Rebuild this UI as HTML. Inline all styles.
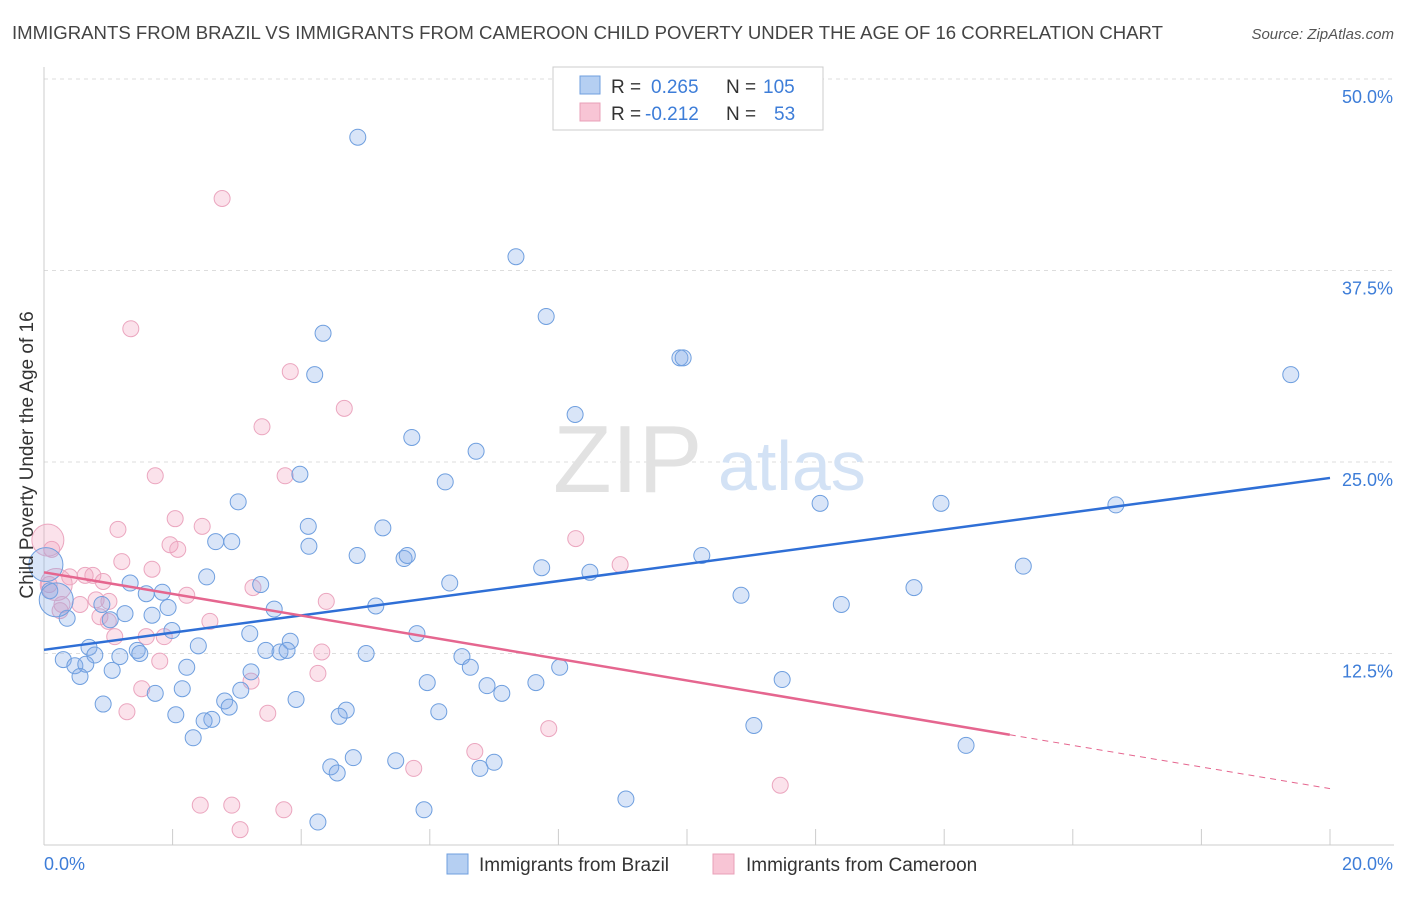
<!DOCTYPE html>
<html><head><meta charset="utf-8"><style>
body{margin:0;background:#fff;font-family:"Liberation Sans",sans-serif;}
svg text{font-family:"Liberation Sans",sans-serif;}
</style></head><body>
<svg id="chart" width="1406" height="892" xmlns="http://www.w3.org/2000/svg">
<text x="12" y="39" font-size="18" fill="#444" textLength="1151" lengthAdjust="spacingAndGlyphs">IMMIGRANTS FROM BRAZIL VS IMMIGRANTS FROM CAMEROON CHILD POVERTY UNDER THE AGE OF 16 CORRELATION CHART</text>
<text x="1394" y="39" font-size="15" fill="#555" text-anchor="end" font-style="italic">Source: ZipAtlas.com</text>
<g id="grid"></g>
<text x="553" y="492" font-size="96" font-family="Liberation Serif" fill="#e2e2e2">ZIP</text>
<text x="718" y="490" font-size="70" fill="#d3e2f5">atlas</text>
<g id="marks"></g>
<g id="lines"></g>
<text transform="translate(33,455) rotate(-90)" font-size="19" fill="#333" text-anchor="middle">Child Poverty Under the Age of 16</text>
<text x="44" y="870" font-size="18" fill="#3d7dd8">0.0%</text>
<text x="1393" y="870" font-size="18" fill="#3d7dd8" text-anchor="end">20.0%</text>
<g>
<rect x="553" y="67" width="270" height="63" fill="#fff" stroke="#ccc"/>
<rect x="580" y="76" width="20" height="18" fill="#b5cff2" stroke="#6f9fdf"/>
<rect x="580" y="103" width="20" height="18" fill="#f8c5d5" stroke="#e9a0b8"/>
<text x="611" y="93" font-size="19" fill="#333">R =</text>
<text x="651" y="93" font-size="19" fill="#3d7dd8">0.265</text>
<text x="726" y="93" font-size="19" fill="#333">N =</text>
<text x="763" y="93" font-size="19" fill="#3d7dd8">105</text>
<text x="611" y="120" font-size="19" fill="#333">R =</text>
<text x="645" y="120" font-size="19" fill="#3d7dd8">-0.212</text>
<text x="726" y="120" font-size="19" fill="#333">N =</text>
<text x="774" y="120" font-size="19" fill="#3d7dd8">53</text>
</g>
<g>
<rect x="447" y="854" width="21" height="20" fill="#b5cff2" stroke="#6f9fdf"/>
<text x="479" y="871" font-size="19" fill="#333">Immigrants from Brazil</text></g>
<g>
<rect x="713" y="854" width="21" height="20" fill="#f8c5d5" stroke="#e9a0b8"/>
<text x="746" y="871" font-size="19" fill="#333">Immigrants from Cameroon</text></g>
</svg>
<script>
const yTicks=[12.5,25.0,37.5,50.0];
const xTicks=[0,2,4,6,8,10,12,14,16,18,20];
const brazilX=[4.88,7.34,7.81,4.34,9.89,9.94,19.39,4.21,8.26,5.72,6.72,3.98,6.24,3.02,12.07,13.95,16.67,4.11,5.27,2.67,2.92,4.12,4.87,5.60,5.65,10.23,7.74,15.23,8.49,2.53,3.37,6.31,1.34,1.59,1.84,10.84,13.53,5.16,3.58,0.90,1.93,1.26,1.68,12.40,0.36,1.03,1.99,3.20,5.80,3.83,2.40,0.70,1.45,1.49,3.45,3.67,3.78,5.01,0.79,1.18,6.50,0.30,0.48,0.65,1.06,2.22,3.22,6.63,8.02,0.56,5.96,7.65,6.89,11.48,2.15,7.12,1.73,3.06,2.81,3.92,0.92,2.88,4.70,4.59,2.05,2.61,2.49,6.14,11.04,2.32,14.34,4.81,5.47,4.46,4.56,6.78,7.00,9.05,5.91,4.26,0.09,0.03,0.19,8.62];
const brazilY=[46.2,38.4,34.5,33.4,31.8,31.8,30.7,30.7,28.1,26.6,25.7,24.2,23.7,22.4,22.3,22.3,22.2,20.8,20.7,19.8,19.8,19.5,18.9,18.7,18.9,18.9,18.1,18.2,17.8,17.5,17.0,17.1,17.1,16.4,16.5,16.3,16.8,15.6,15.4,15.7,15.5,15.1,15.0,15.7,14.8,14.7,14.0,13.8,13.8,13.3,13.0,12.9,12.7,12.5,12.7,12.6,12.7,12.5,12.4,12.3,12.3,12.1,11.7,11.8,11.4,11.6,11.3,11.6,11.6,11.0,10.6,10.6,10.4,10.8,10.2,9.9,9.9,10.1,9.4,9.5,9.2,9.0,8.8,8.4,8.5,8.2,8.1,8.7,7.8,7.0,6.5,5.7,5.5,5.1,4.7,5.0,5.4,3.0,2.3,1.5,16.6,18.3,16.0,48.8];
const brazilSize=brazilX.map((v,i)=>(i===101||i===102)?2:1);
const camX=[2.77,1.35,3.83,4.67,3.39,1.73,3.75,2.04,2.46,1.15,8.27,1.96,2.08,0.12,1.21,1.68,0.76,0.64,0.40,8.96,0.92,3.25,2.22,4.39,0.56,0.81,1.01,0.28,0.08,2.58,1.00,0.87,1.59,1.87,1.10,4.32,1.80,4.26,1.52,3.22,1.29,3.48,7.85,6.70,5.75,11.45,2.43,2.92,3.73,3.05,0.06,0.19,0.25];
const camY=[42.2,33.7,30.9,28.5,27.3,24.1,24.1,21.3,20.8,20.6,20.0,19.6,19.3,19.3,18.5,18.0,17.6,17.6,17.5,18.3,17.2,16.8,16.3,15.9,15.7,16.0,15.9,15.7,17.0,14.6,14.6,14.9,13.6,13.6,13.6,12.6,12.0,11.2,10.2,10.7,8.7,8.6,7.6,6.1,5.0,3.9,2.6,2.6,2.3,1.0,19.9,17.0,15.3];
const camSize=camX.map((v,i)=>(i===50||i===51)?2:1);
const brazilTrend=[12.74,0.561];
const camTrend=[17.8,-0.706];
const camSolidEnd=15.02;

const X=v=>44+v/20*1286;
const Y=v=>845-v/12.5*191.5;
const NS="http://www.w3.org/2000/svg";
function mk(t,a,p){const e=document.createElementNS(NS,t);for(const k in a)e.setAttribute(k,a[k]);p.appendChild(e);return e;}
const grid=document.getElementById('grid');
yTicks.forEach(t=>{
 const l=mk('line',{x1:44,x2:1394,y1:Y(t),y2:Y(t),stroke:'#ddd','stroke-dasharray':'4,4'},grid);
 
 
 const tx=mk('text',{x:1393,y:Y(t)+24,'font-size':18,fill:'#3d7dd8','text-anchor':'end'},grid);
 tx.textContent=t.toFixed(1)+'%';
 
 
});
const ax=mk('line',{x1:44,x2:1394,y1:845,y2:845,stroke:'#ccc'},grid);


const ay=mk('line',{x1:44,x2:44,y1:67,y2:845,stroke:'#ccc'},grid);


xTicks.forEach(t=>{
 const l=mk('line',{x1:X(t),x2:X(t),y1:829,y2:845,stroke:'#ccc'},grid);
 
 
});
const marks=document.getElementById('marks');
camX.forEach((v,i)=>{
 const c=mk('circle',{cx:X(v),cy:Y(camY[i]),r:camSize[i]===2?16:8,fill:'rgba(242,160,188,0.3)',stroke:'#eba6bf','stroke-width':1},marks);
 
 
});
brazilX.forEach((v,i)=>{
 const c=mk('circle',{cx:X(v),cy:Y(brazilY[i]),r:brazilSize[i]===2?17:8,fill:'rgba(130,170,232,0.3)',stroke:'#6f9fdf','stroke-width':1},marks);
 
 
});
const lines=document.getElementById('lines');
const bl=mk('line',{x1:X(0),y1:Y(brazilTrend[0]),x2:X(20),y2:Y(brazilTrend[0]+brazilTrend[1]*20),stroke:'#2f6fd6','stroke-width':2.5},lines);


const pl=mk('line',{x1:X(0),y1:Y(camTrend[0]),x2:X(camSolidEnd),y2:Y(camTrend[0]+camTrend[1]*camSolidEnd),stroke:'#e5668f','stroke-width':2.5},lines);


const pd=mk('line',{x1:X(camSolidEnd),y1:Y(camTrend[0]+camTrend[1]*camSolidEnd),x2:X(20),y2:Y(camTrend[0]+camTrend[1]*20),stroke:'#e5668f','stroke-width':1,'stroke-dasharray':'6,5'},lines);


</script>
</body></html>
